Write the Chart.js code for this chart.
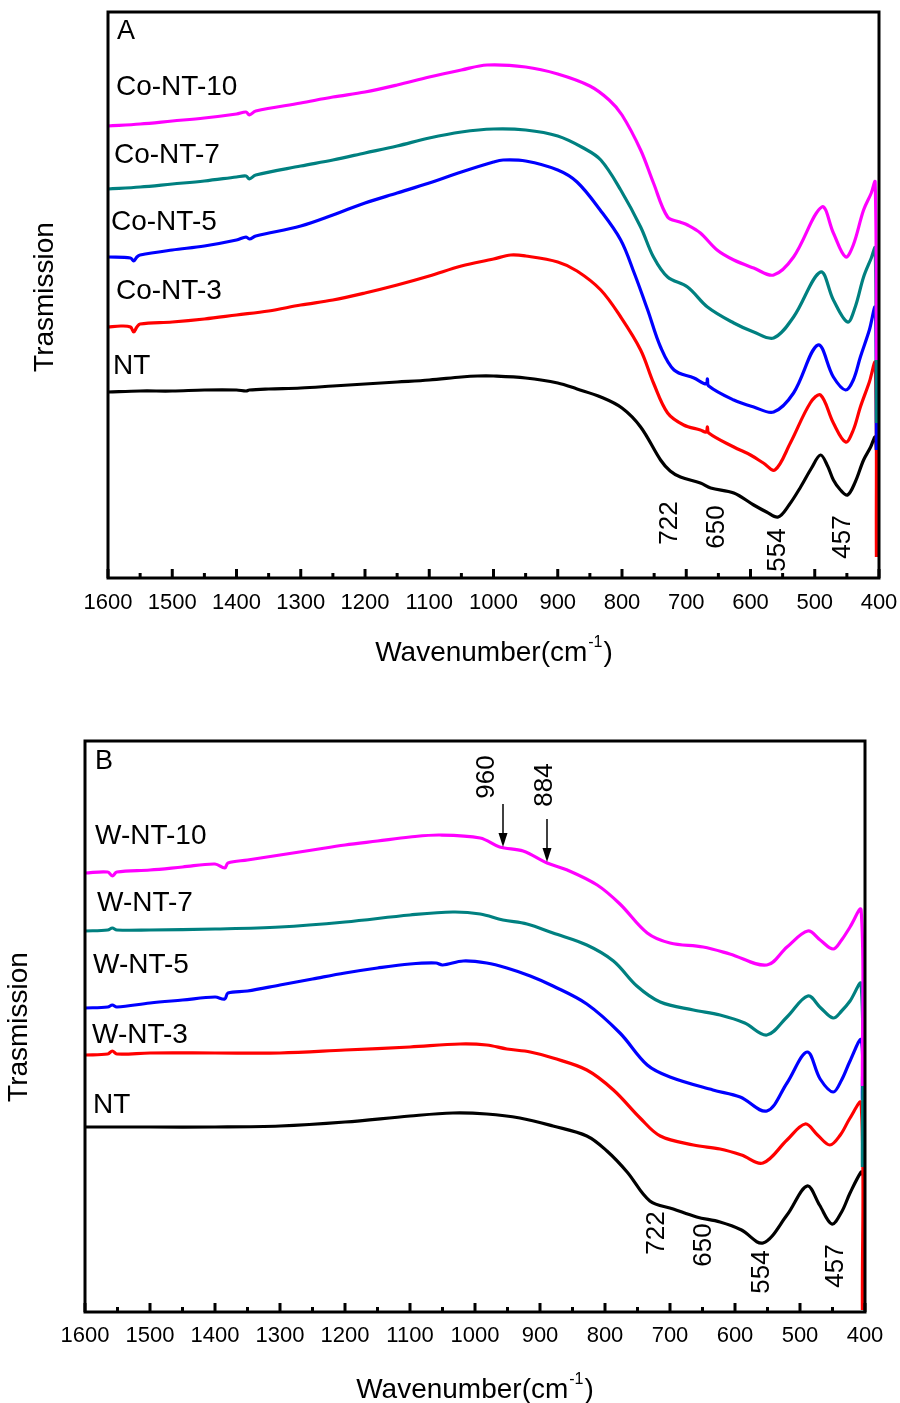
<!DOCTYPE html>
<html><head><meta charset="utf-8">
<script src="https://cdn.jsdelivr.net/npm/chart.js@4.4.1/dist/chart.umd.min.js"></script>
<style>
html,body{margin:0;padding:0;background:#fff;}
#wrap{position:relative;width:900px;height:1403px;background:#fff;}
canvas{position:absolute;left:0;}
</style></head><body>
<div id="wrap">
<canvas id="cA" width="900" height="700" style="top:0"></canvas>
<canvas id="cB" width="900" height="703" style="top:700px"></canvas>
</div>
<script>
// ---------- tick labels ----------
const xTickValues = [1600,1500,1400,1300,1200,1100,1000,900,800,700,600,500,400];
const peakLabels = ['722','650','554','457'];
const wPeakLabels = ['960','884'];

// ---------- Panel A series: [wavenumber, transmission (a.u.)] ----------
const A_NT = [[1600,186],[1550,187],[1500,187],[1450,188],[1400,188],[1385,187],[1380,188],[1350,189],[1300,190],[1250,192],[1200,194],[1150,196],[1100,198],[1050,201],[1025,202],[1000,202],[950,200],[900,195],[870,189],[833,181],[800,170],[771,151],[740,118],[725,107],[709,101],[678,95],[662,90],[626,85],[595,73],[575,66],[557,61],[540,73],[522,91],[505,110],[491,123],[480,112],[471,98],[460,88],[449,83],[437,96],[424,118],[413,131],[406,141],[404,128]];
const A_Co3 = [[1600,251],[1580,252],[1565,251],[1560,246],[1555,251],[1550,254],[1500,256],[1450,259],[1400,263],[1350,267],[1300,273],[1250,278],[1200,285],[1150,293],[1100,302],[1050,312],[1000,319],[973,323],[950,322],[900,316],[870,307],[833,288],[802,261],[771,228],[751,195],[729,165],[704,153],[678,148],[669,146],[667,151],[665,145],[626,131],[600,123],[580,115],[562,108],[538,135],[507,175],[491,183],[471,155],[452,136],[440,148],[429,171],[415,196],[406,215],[404,21]];
const A_Co5 = [[1600,321],[1565,320],[1560,317],[1555,321],[1550,323],[1500,328],[1450,332],[1400,338],[1385,341],[1380,339],[1370,342],[1300,352],[1250,363],[1200,375],[1150,385],[1100,395],[1050,406],[1000,416],[985,418],[950,417],[900,408],[870,396],[834,368],[802,338],[781,305],[760,268],[740,231],[719,208],[688,200],[669,194],[667,199],[665,192],[626,178],[595,171],[564,166],[533,185],[495,233],[471,201],[452,188],[440,198],[429,221],[415,248],[406,270],[404,128]];
const A_Co7 = [[1600,389],[1550,391],[1500,394],[1450,397],[1400,401],[1385,402],[1380,399],[1370,403],[1300,412],[1250,418],[1200,425],[1150,432],[1100,440],[1050,446],[1000,449],[950,448],[900,442],[860,430],[833,418],[802,388],[771,351],[751,321],[729,301],[698,291],[667,271],[626,255],[595,246],[564,240],[533,261],[491,306],[471,278],[449,256],[437,271],[424,301],[412,320],[406,330],[404,155]];
const A_Co10 = [[1600,452],[1550,454],[1500,457],[1450,460],[1400,464],[1385,466],[1380,463],[1370,467],[1300,475],[1250,481],[1200,486],[1150,493],[1100,501],[1050,508],[1010,513],[950,511],[900,504],[850,492],[820,478],[800,463],[771,428],[751,395],[729,361],[710,356],[698,353],[678,345],[652,328],[626,318],[595,310],[564,303],[533,321],[489,371],[471,345],[452,321],[440,333],[424,368],[412,385],[406,396],[404,218]];

// ---------- Panel B series ----------
const B_NT = [[1600,185],[1500,185],[1400,185],[1300,186],[1200,190],[1100,196],[1034,199],[982,198],[931,194],[880,186],[828,176],[797,161],[766,140],[731,111],[695,103],[659,95],[623,90],[590,82],[557,69],[520,97],[489,126],[470,107],[451,88],[436,100],[423,119],[406,140],[404,137]];
const B_W3 = [[1600,257],[1565,258],[1558,261],[1551,258],[1500,259],[1400,259],[1300,259],[1200,262],[1100,265],[1023,268],[982,267],[951,263],[915,260],[880,254],[828,242],[787,222],[746,194],[715,176],[664,167],[623,163],[590,157],[557,149],[520,172],[492,188],[473,177],[454,167],[438,177],[423,194],[406,209],[404,2]];
const B_W5 = [[1600,304],[1565,305],[1558,307],[1551,305],[1500,309],[1450,312],[1400,315],[1385,313],[1380,319],[1350,321],[1300,327],[1250,333],[1200,339],[1150,344],[1100,348],[1060,349],[1050,347],[1018,351],[982,349],[951,344],[915,336],[880,326],[828,308],[777,279],[735,247],[700,235],[634,222],[592,215],[551,201],[520,229],[489,260],[469,233],[449,220],[436,232],[423,251],[406,272],[404,212]];
const B_W7 = [[1600,381],[1565,382],[1558,384],[1551,382],[1500,382],[1400,383],[1300,385],[1200,390],[1100,397],[1034,400],[992,398],[957,392],[920,388],[880,379],[828,367],[787,351],[751,326],[715,310],[664,302],[623,297],[585,289],[551,277],[520,295],[488,316],[468,304],[449,294],[436,301],[423,311],[406,328],[404,145]];
const B_W10 = [[1600,439],[1565,440],[1558,436],[1551,440],[1500,442],[1450,445],[1400,448],[1385,444],[1380,449],[1350,452],[1300,457],[1250,462],[1200,467],[1150,471],[1100,475],[1054,477],[992,474],[962,465],[926,461],[889,449],[858,442],[812,427],[777,408],[735,379],[700,369],[649,365],[608,358],[551,347],[520,365],[488,381],[469,372],[449,363],[436,372],[423,385],[406,402],[404,226]];

const FONT = '"Liberation Sans", Arial, Helvetica, sans-serif';
const COL = {black:'#000000', red:'#ff0000', blue:'#0000ff', teal:'#008080', mag:'#ff00ff'};

function toXY(arr){ return arr.map(p => ({x:p[0], y:p[1]})); }

function drawRotated(ctx, text, x, y, size){
  ctx.save();
  ctx.translate(x, y);
  ctx.rotate(-Math.PI/2);
  ctx.font = size + 'px ' + FONT;
  ctx.textAlign = 'center';
  ctx.textBaseline = 'middle';
  ctx.fillStyle = '#000';
  ctx.fillText(text, 0, 0);
  ctx.restore();
}

function makePanel(id, cfg){
  const canvas = document.getElementById(id);
  const H = canvas.height;
  const deco = {
    id: 'deco_' + id,
    afterDatasetsDraw(chart){
      const ctx = chart.ctx;
      const a = chart.chartArea;
      const xs = chart.scales.x;
      ctx.save();
      ctx.strokeStyle = '#000';
      ctx.lineWidth = 3;
      ctx.strokeRect(a.left, a.top, a.right - a.left, a.bottom - a.top);
      for (let v = 400; v <= 1600; v += 50){
        const px = xs.getPixelForValue(v);
        const len = (v % 100 === 0) ? 9 : 5;
        ctx.beginPath();
        ctx.moveTo(px, a.bottom);
        ctx.lineTo(px, a.bottom - len);
        ctx.stroke();
      }
      ctx.fillStyle = '#000';
      ctx.font = '27px ' + FONT;
      ctx.textAlign = 'left';
      ctx.textBaseline = 'middle';
      ctx.fillText(cfg.letter.text, cfg.letter.x, cfg.letter.y);
      ctx.font = '28px ' + FONT;
      cfg.names.forEach(n => ctx.fillText(n.text, n.x, n.y));
      cfg.peaks.forEach(p => drawRotated(ctx, p.text, p.x, p.y, 26));
      (cfg.arrows || []).forEach(ar => {
        ctx.strokeStyle = '#000';
        ctx.lineWidth = 1.5;
        ctx.beginPath();
        ctx.moveTo(ar.x, ar.y1);
        ctx.lineTo(ar.x, ar.y2 - 12);
        ctx.stroke();
        ctx.beginPath();
        ctx.moveTo(ar.x - 4.5, ar.y2 - 14);
        ctx.lineTo(ar.x + 4.5, ar.y2 - 14);
        ctx.lineTo(ar.x, ar.y2);
        ctx.closePath();
        ctx.fill();
      });
      drawRotated(ctx, 'Trasmission', cfg.yTitle.x, cfg.yTitle.y, 28);
      const main = 'Wavenumber(cm', sup = '-1', end = ')';
      ctx.font = '28px ' + FONT;
      const w1 = ctx.measureText(main).width;
      const w3 = ctx.measureText(end).width;
      ctx.font = '16px ' + FONT;
      const w2 = ctx.measureText(sup).width;
      const total = w1 + w2 + w3 + 2;
      const sx = cfg.xTitle.x - total / 2;
      ctx.textAlign = 'left';
      ctx.textBaseline = 'alphabetic';
      const base = cfg.xTitle.y + 10;
      ctx.font = '28px ' + FONT;
      ctx.fillText(main, sx, base);
      ctx.font = '16px ' + FONT;
      ctx.fillText(sup, sx + w1 + 1, base - 14);
      ctx.font = '28px ' + FONT;
      ctx.fillText(end, sx + w1 + w2 + 2, base);
      ctx.restore();
    }
  };
  return new Chart(canvas, {
    type: 'line',
    data: {
      datasets: cfg.series.map(s => ({
        label: s.label,
        data: toXY(s.data),
        borderColor: s.color,
        backgroundColor: s.color,
        borderWidth: 3.2,
        pointRadius: 0,
        fill: false,
        tension: 0.35
      }))
    },
    options: {
      responsive: false,
      animation: false,
      devicePixelRatio: 1,
      layout: { padding: { left: cfg.area.left, right: 900 - cfg.area.right, top: cfg.area.top, bottom: 0 } },
      plugins: { legend: { display: false }, tooltip: { enabled: false }, title: { display: false } },
      scales: {
        x: {
          type: 'linear', reverse: true, min: 400, max: 1600,
          afterBuildTicks: s => { s.ticks = xTickValues.map(v => ({ value: v })); },
          grid: { display: false, drawTicks: false },
          border: { display: false },
          ticks: { font: { family: FONT, size: 22 }, color: '#000', padding: cfg.tickPad, maxRotation: 0, autoSkip: false,
                   callback: v => String(v) },
          afterFit: s => { s.height = H - cfg.area.bottom; s.paddingLeft = 0; s.paddingRight = 0; }
        },
        y: { type: 'linear', display: false, min: 0, max: cfg.yMax }
      }
    },
    plugins: [deco]
  });
}

makePanel('cA', {
  area: { left: 108, right: 879, top: 12, bottom: 578 },
  yMax: 566,
  tickPad: 12,
  series: [
    { label: 'Co-NT-10', data: A_Co10, color: COL.mag },
    { label: 'Co-NT-7', data: A_Co7, color: COL.teal },
    { label: 'Co-NT-5', data: A_Co5, color: COL.blue },
    { label: 'Co-NT-3', data: A_Co3, color: COL.red },
    { label: 'NT', data: A_NT, color: COL.black }
  ],
  letter: { text: 'A', x: 117, y: 32 },
  names: [
    { text: 'Co-NT-10', x: 116, y: 87 },
    { text: 'Co-NT-7', x: 114, y: 155 },
    { text: 'Co-NT-5', x: 111, y: 222 },
    { text: 'Co-NT-3', x: 116, y: 291 },
    { text: 'NT', x: 113, y: 366 }
  ],
  peaks: [
    { text: peakLabels[0], x: 670, y: 523 },
    { text: peakLabels[1], x: 717, y: 527 },
    { text: peakLabels[2], x: 778, y: 550 },
    { text: peakLabels[3], x: 843, y: 537 }
  ],
  yTitle: { x: 45, y: 297 },
  xTitle: { x: 494, y: 651 }
});

makePanel('cB', {
  area: { left: 85, right: 865, top: 41, bottom: 612 },
  yMax: 571,
  tickPad: 11,
  series: [
    { label: 'W-NT-10', data: B_W10, color: COL.mag },
    { label: 'W-NT-7', data: B_W7, color: COL.teal },
    { label: 'W-NT-3', data: B_W3, color: COL.red },
    { label: 'W-NT-5', data: B_W5, color: COL.blue },
    { label: 'NT', data: B_NT, color: COL.black }
  ],
  letter: { text: 'B', x: 95, y: 62 },
  names: [
    { text: 'W-NT-10', x: 95, y: 136 },
    { text: 'W-NT-7', x: 97, y: 203 },
    { text: 'W-NT-5', x: 93, y: 265 },
    { text: 'W-NT-3', x: 92, y: 335 },
    { text: 'NT', x: 93, y: 405 }
  ],
  peaks: [
    { text: peakLabels[0], x: 657, y: 533 },
    { text: peakLabels[1], x: 704, y: 545 },
    { text: peakLabels[2], x: 762, y: 572 },
    { text: peakLabels[3], x: 836, y: 566 },
    { text: wPeakLabels[0], x: 487, y: 77 },
    { text: wPeakLabels[1], x: 545, y: 85 }
  ],
  arrows: [
    { x: 503, y1: 104, y2: 147 },
    { x: 547, y1: 119, y2: 162 }
  ],
  yTitle: { x: 19, y: 327 },
  xTitle: { x: 475, y: 688 }
});
</script>
</body></html>
